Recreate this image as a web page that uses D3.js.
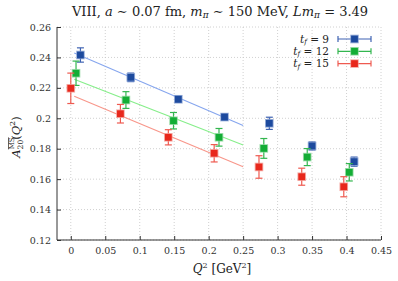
<!DOCTYPE html>
<html><head><meta charset="utf-8">
<script src="https://cdn.jsdelivr.net/npm/d3@7"></script>
<style>
body{margin:0;background:#fff;}
</style></head><body>
<svg id="c" width="398" height="281"></svg>
<script>
const series = ["tf9","tf12","tf15"];
const legendNums = ["9","12","15"];
const q2_tf9  = [0.014, 0.087, 0.156, 0.223, 0.288, 0.350, 0.411];
const a_tf9   = [0.2416, 0.2269, 0.2125, 0.2008, 0.1967, 0.1818, 0.1715];
const e_tf9   = [0.0047, 0.0028, 0.0020, 0.0020, 0.0040, 0.0026, 0.0030];
const q2_tf12 = [0.0076, 0.080, 0.149, 0.215, 0.280, 0.343, 0.404];
const a_tf12  = [0.2296, 0.2120, 0.1984, 0.1875, 0.1802, 0.1745, 0.1645];
const e_tf12  = [0.0080, 0.0055, 0.0054, 0.0058, 0.0065, 0.0056, 0.0057];
const q2_tf15 = [0.000, 0.072, 0.1415, 0.208, 0.273, 0.335, 0.396];
const a_tf15  = [0.2197, 0.2030, 0.1875, 0.1770, 0.1680, 0.1616, 0.1550];
const e_tf15  = [0.0100, 0.0061, 0.0050, 0.0057, 0.0074, 0.0056, 0.0066];
const fitQ2   = [0.005, 0.25];
const fit_tf9  = [0.2429, 0.1952];
const fit_tf12 = [0.2256, 0.1825];
const fit_tf15 = [0.2145, 0.1681];
const xTicks = [0,0.05,0.1,0.15,0.2,0.25,0.3,0.35,0.4,0.45];
const yTicks = [0.12,0.14,0.16,0.18,0.2,0.22,0.24,0.26];

const data = {
  tf9:{q:q2_tf9,a:a_tf9,e:e_tf9,fit:fit_tf9},
  tf12:{q:q2_tf12,a:a_tf12,e:e_tf12,fit:fit_tf12},
  tf15:{q:q2_tf15,a:a_tf15,e:e_tf15,fit:fit_tf15}
};
const colors = {
  tf9:{m:"#1d4a9e",halo:"#7f9bd0",err:"#3f63b3",fit:"#86a6ee"},
  tf12:{m:"#13ad35",halo:"#8ad69a",err:"#33b64f",fit:"#86ee8a"},
  tf15:{m:"#e8281c",halo:"#f29a92",err:"#ee5a50",fit:"#f8968a"}
};
const FONT = "DejaVu Serif";

const svg = d3.select("#c");
const L=57,R=381,T=27,B=240;
const x = d3.scaleLinear().domain([-0.02,0.45]).range([L,R]);
const y = d3.scaleLinear().domain([0.12,0.26]).range([B,T]);

// grid
const g = svg.append("g");
g.selectAll(".gx").data(xTicks).enter().append("line")
  .attr("x1",d=>x(d)).attr("x2",d=>x(d)).attr("y1",T).attr("y2",B)
  .attr("stroke","#c4c4c4").attr("stroke-width",0.8).attr("stroke-dasharray","1,2");
g.selectAll(".gy").data(yTicks).enter().append("line")
  .attr("x1",L).attr("x2",R).attr("y1",d=>y(d)).attr("y2",d=>y(d))
  .attr("stroke","#c4c4c4").attr("stroke-width",0.8).attr("stroke-dasharray","1,2");

// axes
const xAxis = d3.axisBottom(x).tickValues(xTicks).tickSize(-4).tickPadding(7)
  .tickFormat(d=>d===0?"0":String(d));
const yAxis = d3.axisLeft(y).tickValues(yTicks).tickSize(-4).tickPadding(6)
  .tickFormat(d=>String(+d.toFixed(2)));
const ax = svg.append("g").attr("transform",`translate(0,${B})`).call(xAxis);
const ay = svg.append("g").attr("transform",`translate(${L},0)`).call(yAxis);
[ax,ay].forEach(a=>{
  a.attr("font-family",FONT).attr("font-size",9.5);
  a.select(".domain").attr("stroke","#333").attr("stroke-width",1);
  a.selectAll(".tick line").attr("stroke","#333");
  a.selectAll("text").attr("fill","#333");
});
ax.select(".domain").attr("d",`M${L},0H${R}`);
ay.select(".domain").attr("d",`M0,${T}V${B}`);

// fit lines
series.forEach(s=>{
  const d = data[s];
  svg.append("line")
    .attr("x1",x(fitQ2[0])).attr("y1",y(d.fit[0]))
    .attr("x2",x(fitQ2[1])).attr("y2",y(d.fit[1]))
    .attr("stroke",colors[s].fit).attr("stroke-width",1.1);
});

// points
function drawPoint(gp, cx, cy, ylo, yhi, c){
  gp.append("line").attr("x1",cx).attr("x2",cx).attr("y1",ylo).attr("y2",yhi)
    .attr("stroke",c.err).attr("stroke-width",1.2);
  [ylo,yhi].forEach(yy=>gp.append("line").attr("x1",cx-3.5).attr("x2",cx+3.5)
    .attr("y1",yy).attr("y2",yy).attr("stroke",c.err).attr("stroke-width",1.2));
  gp.append("rect").attr("x",cx-4.3).attr("y",cy-4.3).attr("width",8.6).attr("height",8.6)
    .attr("fill",c.halo).attr("opacity",0.8);
  gp.append("rect").attr("x",cx-3.4).attr("y",cy-3.4).attr("width",6.8).attr("height",6.8)
    .attr("fill",c.m);
}
series.forEach(s=>{
  const d = data[s], c = colors[s];
  const gp = svg.append("g");
  d.q.forEach((q,i)=>{
    drawPoint(gp, x(q), y(d.a[i]), y(d.a[i]-d.e[i]), y(d.a[i]+d.e[i]), c);
  });
});

// legend
series.forEach((s,i)=>{
  const yy = 39 + i*12.3;
  const c = colors[s];
  const t = svg.append("text").attr("x",329).attr("y",yy+3.5).attr("text-anchor","end")
    .attr("font-family",FONT).attr("font-size",10.5).attr("fill","#222");
  t.append("tspan").attr("font-style","italic").text("t");
  t.append("tspan").attr("font-style","italic").attr("font-size",7).attr("dy",1.5).text("f");
  t.append("tspan").attr("dy",-1.5).text(" = "+legendNums[i]);
  const gl = svg.append("g");
  gl.append("line").attr("x1",338).attr("x2",371).attr("y1",yy).attr("y2",yy)
    .attr("stroke",c.err).attr("stroke-width",1.2);
  [338,371].forEach(xx=>gl.append("line").attr("x1",xx).attr("x2",xx).attr("y1",yy-3).attr("y2",yy+3)
    .attr("stroke",c.err).attr("stroke-width",1.2));
  gl.append("rect").attr("x",354.5-4.3).attr("y",yy-4.3).attr("width",8.6).attr("height",8.6)
    .attr("fill",c.halo).attr("opacity",0.8);
  gl.append("rect").attr("x",354.5-3.4).attr("y",yy-3.4).attr("width",6.8).attr("height",6.8)
    .attr("fill",c.m);
});

// title
const ti = svg.append("text").attr("x",220).attr("y",16).attr("text-anchor","middle")
  .attr("font-family",FONT).attr("font-size",13).attr("fill","#222");
ti.append("tspan").text("VIII, ");
ti.append("tspan").attr("font-style","italic").text("a");
ti.append("tspan").text(" ∼ 0.07 fm, ");
ti.append("tspan").attr("font-style","italic").text("m");
ti.append("tspan").attr("font-style","italic").attr("font-size",9).attr("dy",2).text("π");
ti.append("tspan").attr("dy",-2).text(" ∼ 150 MeV, ");
ti.append("tspan").attr("font-style","italic").text("Lm");
ti.append("tspan").attr("font-style","italic").attr("font-size",9).attr("dy",2).text("π");
ti.append("tspan").attr("dy",-2).text(" = 3.49");

// x label
const xl = svg.append("text").attr("x",222).attr("y",273).attr("text-anchor","middle")
  .attr("font-family",FONT).attr("font-size",12).attr("fill","#222");
xl.append("tspan").attr("font-style","italic").text("Q");
xl.append("tspan").attr("font-size",8).attr("dy",-5).text("2");
xl.append("tspan").attr("dy",5).text(" [GeV");
xl.append("tspan").attr("font-size",8).attr("dy",-5).text("2");
xl.append("tspan").attr("dy",5).text("]");

// y label
const yl = svg.append("text").attr("transform","translate(20,137) rotate(-90)")
  .attr("text-anchor","middle").attr("font-family",FONT).attr("font-size",11.5).attr("fill","#222");
yl.append("tspan").attr("font-style","italic").text("A");
yl.append("tspan").attr("font-size",7).attr("dy",-6).attr("text-decoration","overline").text("MS");
yl.append("tspan").attr("font-size",7.5).attr("dx",-12).attr("dy",9).text("20");
yl.append("tspan").attr("dy",-3).text("(");
yl.append("tspan").attr("font-style","italic").text("Q");
yl.append("tspan").attr("font-size",8).attr("dy",-5).text("2");
yl.append("tspan").attr("dy",5).text(")");
</script></body></html>
